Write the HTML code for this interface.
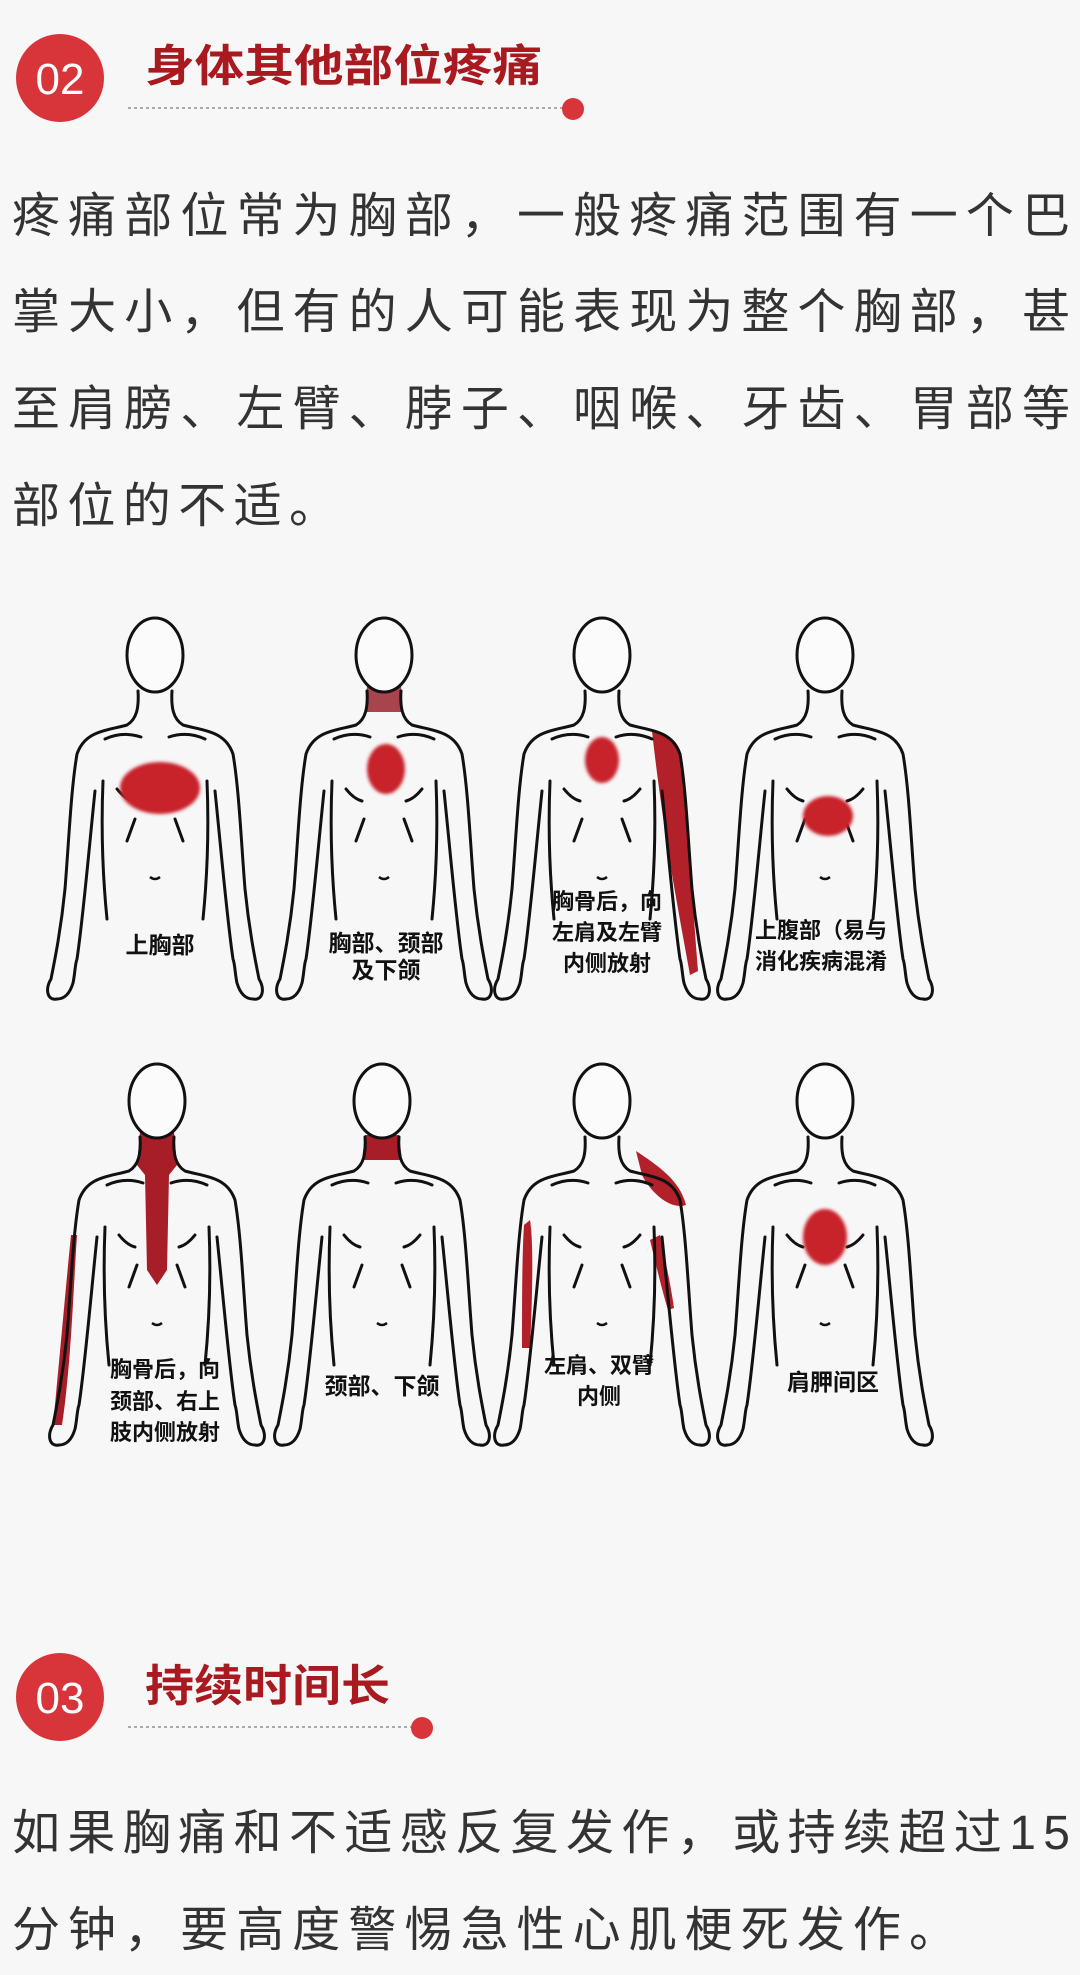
<!DOCTYPE html>
<html><head><meta charset="utf-8"><style>
html,body{margin:0;padding:0;background:#f7f7f7;}
svg{display:block;}
.t{font-family:"Liberation Sans","Noto Sans CJK SC",sans-serif;}
</style></head><body>
<svg width="1080" height="1975" viewBox="0 0 1080 1975" xmlns="http://www.w3.org/2000/svg">
<defs>
<filter id="bl" x="-20%" y="-20%" width="140%" height="140%"><feGaussianBlur stdDeviation="1.5"/></filter>
<g id="half" fill="none" stroke="#111" stroke-width="3" stroke-linecap="round">
<path d="M-17,72 C-16,88 -18,100 -28,106 C-50,112 -70,112 -78,135 C-84,170 -86,220 -90,270 C-94,310 -100,340 -104,360 C-110,370 -108,382 -98,380 C-90,380 -85,374 -82,364 C-80,355 -80,345 -78,340 C-72,300 -66,230 -60,172"/>
<path d="M-52,162 C-54,210 -52,260 -48,300"/>
<path d="M-50,120 Q-32,112 -14,118"/>
<path d="M-38,170 Q-30,180 -22,182"/>
<path d="M-20,200 L-28,222"/>
</g>
<g id="body">
<ellipse cx="0" cy="36" rx="28" ry="37" fill="#fbfbfb" stroke="#111" stroke-width="3"/>
<use href="#half"/>
<use href="#half" transform="scale(-1,1)"/>
<path d="M-5,258 Q0,262 5,258" fill="none" stroke="#111" stroke-width="2.5"/>
</g>
</defs>
<rect width="1080" height="1975" fill="#f7f7f7"/>

<circle cx="60" cy="78" r="44" fill="#d8353a"/>
<text x="60" y="94" text-anchor="middle" class="t" font-size="44" fill="#fff">02</text>
<text x="145" y="81" class="t" font-size="44" font-weight="bold" fill="#a81a20" textLength="397" lengthAdjust="spacingAndGlyphs">身体其他部位疼痛</text>
<line x1="128" y1="108" x2="565" y2="108" stroke="#aaa" stroke-width="2" stroke-dasharray="3,3"/>
<circle cx="573" cy="109" r="11" fill="#d8353a"/>

<g class="t" font-size="48" fill="#333">
<text x="12" y="232" textLength="1058" lengthAdjust="spacing">疼痛部位常为胸部，一般疼痛范围有一个巴</text>
<text x="12" y="328" textLength="1058" lengthAdjust="spacing">掌大小，但有的人可能表现为整个胸部，甚</text>
<text x="12" y="425" textLength="1058" lengthAdjust="spacing">至肩膀、左臂、脖子、咽喉、牙齿、胃部等</text>
<text x="12" y="522" textLength="325" lengthAdjust="spacing">部位的不适。</text>
</g>

<g transform="translate(155,619)">
<use href="#body"/>
<ellipse cx="5" cy="169" rx="40" ry="26" fill="#c8202a" filter="url(#bl)"/>
<text x="5" y="334" text-anchor="middle" class="t" font-size="23" font-weight="bold" fill="#111">上胸部</text>
</g>
<g transform="translate(384,619)">
<path d="M-17,67 L17,67 L19,93 L-19,93 Z" fill="#9a2530" opacity="0.85"/>
<use href="#body"/>
<ellipse cx="2" cy="150" rx="19" ry="25" fill="#c8202a" filter="url(#bl)"/>
<text x="2" y="332" text-anchor="middle" class="t" font-size="23" font-weight="bold" fill="#111">胸部、颈部</text>
<text x="2" y="359" text-anchor="middle" class="t" font-size="23" font-weight="bold" fill="#111">及下颌</text>
</g>
<g transform="translate(602,619)">
<path d="M50,112 C70,115 78,125 80,140 C86,200 90,280 96,352 L88,356 C78,300 62,220 50,112 Z" fill="#b2202a"/>
<use href="#body"/>
<ellipse cx="0" cy="141" rx="17" ry="23" fill="#c8202a" filter="url(#bl)"/>
<text x="5" y="290" text-anchor="middle" class="t" font-size="22" font-weight="bold" fill="#111">胸骨后，向</text>
<text x="5" y="321" text-anchor="middle" class="t" font-size="22" font-weight="bold" fill="#111">左肩及左臂</text>
<text x="5" y="352" text-anchor="middle" class="t" font-size="22" font-weight="bold" fill="#111">内侧放射</text>
</g>
<g transform="translate(825,619)">
<use href="#body"/>
<ellipse cx="3" cy="197" rx="25" ry="20" fill="#c8202a" filter="url(#bl)"/>
<text x="-70" y="319" class="t" font-size="22" font-weight="bold" fill="#111">上腹部（易与</text>
<text x="-70" y="350" class="t" font-size="22" font-weight="bold" fill="#111">消化疾病混淆</text>
</g>

<g transform="translate(157,1065)">
<path d="M-17,67 L17,67 L20,100 L12,110 L10,205 L0,220 L-10,205 L-12,110 L-20,100 Z" fill="#a81e28"/>
<path d="M-80,170 C-84,230 -86,300 -95,360 L-104,360 C-98,300 -92,230 -86,170 Z" fill="#a81e28"/>
<use href="#body"/>
<text x="8" y="312" text-anchor="middle" class="t" font-size="22" font-weight="bold" fill="#111">胸骨后，向</text>
<text x="8" y="344" text-anchor="middle" class="t" font-size="22" font-weight="bold" fill="#111">颈部、右上</text>
<text x="8" y="375" text-anchor="middle" class="t" font-size="22" font-weight="bold" fill="#111">肢内侧放射</text>
</g>
<g transform="translate(382,1065)">
<path d="M-17,70 L17,70 L20,95 L-20,95 Z" fill="#a81e28"/>
<use href="#body"/>
<text x="0" y="329" text-anchor="middle" class="t" font-size="23" font-weight="bold" fill="#111">颈部、下颌</text>
</g>
<g transform="translate(602,1065)">
<path d="M34,86 C55,100 78,115 84,140 C70,145 50,130 40,110 Z" fill="#b2202a"/>
<path d="M-72,155 C-68,180 -70,240 -72,283 L-80,283 C-80,240 -80,190 -78,160 Z" fill="#b2202a"/>
<path d="M48,175 C54,200 60,225 66,245 L72,243 C68,215 62,190 58,170 Z" fill="#b2202a"/>
<use href="#body"/>
<text x="-3" y="308" text-anchor="middle" class="t" font-size="22" font-weight="bold" fill="#111">左肩、双臂</text>
<text x="-3" y="339" text-anchor="middle" class="t" font-size="22" font-weight="bold" fill="#111">内侧</text>
</g>
<g transform="translate(825,1065)">
<use href="#body"/>
<ellipse cx="0" cy="172" rx="22" ry="28" fill="#c8202a" filter="url(#bl)"/>
<text x="8" y="325" text-anchor="middle" class="t" font-size="23" font-weight="bold" fill="#111">肩胛间区</text>
</g>

<circle cx="60" cy="1697" r="44" fill="#d8353a"/>
<text x="60" y="1713" text-anchor="middle" class="t" font-size="44" fill="#fff">03</text>
<text x="145" y="1701" class="t" font-size="44" font-weight="bold" fill="#a81a20" textLength="245" lengthAdjust="spacingAndGlyphs">持续时间长</text>
<line x1="128" y1="1727" x2="415" y2="1727" stroke="#aaa" stroke-width="2" stroke-dasharray="3,3"/>
<circle cx="422" cy="1728" r="11" fill="#d8353a"/>

<g class="t" font-size="48" fill="#333">
<text x="12" y="1849" textLength="1058" lengthAdjust="spacing">如果胸痛和不适感反复发作，或持续超过15</text>
<text x="12" y="1946" textLength="945" lengthAdjust="spacing">分钟，要高度警惕急性心肌梗死发作。</text>
</g>
</svg>
</body></html>
